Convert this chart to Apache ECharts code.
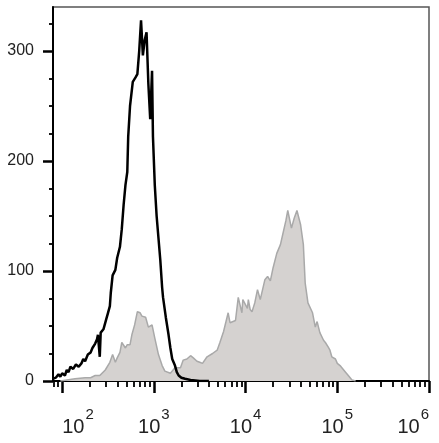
<!DOCTYPE html>
<html>
<head>
<meta charset="utf-8">
<script src="https://cdn.jsdelivr.net/npm/echarts@6/dist/echarts.min.js"></script>
<style>
html,body{margin:0;padding:0;background:#fff;}
#c{width:439px;height:443px;}
</style>
</head>
<body>
<div id="c"></div>
<script>
// x values are log10(fluorescence intensity); y values are event counts
const blackLog = [1.90,1.93,1.96,1.98,2.00,2.03,2.05,2.07,2.09,2.12,2.15,2.18,2.21,2.23,2.25,2.28,2.31,2.33,2.36,2.38,2.39,2.41,2.42,2.45,2.48,2.50,2.52,2.53,2.55,2.58,2.60,2.63,2.65,2.67,2.69,2.71,2.72,2.74,2.77,2.80,2.82,2.84,2.86,2.88,2.90,2.92,2.94,2.96,2.98,2.99,3.01,3.03,3.05,3.07,3.09,3.10,3.13,3.16,3.18,3.20,3.23,3.25,3.27,3.30,3.34,3.40,3.50,3.60];
const blackCount = [2,3,6,4,7,5,10,8,13,11,15,13,16,20,18,24,26,30,34,38,42,22,44,47,56,62,68,80,96,101,112,122,138,160,178,190,222,250,272,276,279,300,328,296,310,317,270,238,282,222,178,150,130,110,85,76,58,42,30,20,14,8,5,3,2,1,0,0];

const grayLog = [1.98,2.14,2.25,2.31,2.36,2.41,2.47,2.52,2.55,2.58,2.60,2.63,2.65,2.69,2.71,2.74,2.76,2.79,2.82,2.85,2.87,2.91,2.94,2.98,3.01,3.05,3.09,3.12,3.18,3.23,3.29,3.32,3.36,3.40,3.43,3.47,3.50,3.53,3.58,3.64,3.69,3.72,3.76,3.78,3.81,3.83,3.85,3.89,3.92,3.94,3.96,3.97,4.02,4.03,4.05,4.07,4.10,4.13,4.16,4.18,4.21,4.24,4.27,4.30,4.34,4.38,4.41,4.44,4.46,4.50,4.53,4.56,4.60,4.63,4.65,4.68,4.70,4.73,4.76,4.78,4.81,4.85,4.87,4.90,4.92,4.94,4.98,5.00,5.03,5.05,5.09,5.12,5.16,5.20];
const grayCount = [0,2,3,3,5,5,10,17,24,17,21,26,35,30,33,33,42,51,63,62,59,58,49,51,39,24,14,9,7,12,12,19,20,23,21,18,17,16,22,25,28,35,45,46,62,53,54,55,76,69,62,74,66,74,65,63,71,83,74,74,92,95,91,103,116,124,135,146,155,139,148,155,142,124,89,71,72,62,49,54,44,37,35,31,28,22,20,16,14,13,8,5,1,0];

const yMajorTicks = [0, 100, 200, 300];
const yMinorTicks = [25, 50, 75, 125, 150, 175, 225, 250, 275, 325];
const xDecades = [2, 3, 4, 5, 6];
const xMinorMultipliers = [2, 3, 4, 5, 6, 7, 8, 9];

const xMin = 1.9, xMax = 6.0, yMin = 0, yMax = 340;

const xMinorTicks = [Math.log10(80), Math.log10(90)];
[2, 3, 4, 5].forEach(d => xMinorMultipliers.forEach(m => xMinorTicks.push(d + Math.log10(m))));

const pair = (xs, ys) => xs.map((x, i) => [x, ys[i]]);

const chart = echarts.init(document.getElementById('c'), null, {renderer: 'canvas'});
const FONT = '"Liberation Sans", Arial, sans-serif';
chart.setOption({
  animation: false,
  grid: {left: 53, right: 10, top: 7, bottom: 62, containLabel: false, outerBoundsMode: 'none',
    show: true, borderColor: '#555', borderWidth: 1.5, backgroundColor: 'transparent'},
  xAxis: [{
    type: 'value', min: xMin, max: xMax, position: 'bottom',
    axisLine: {show: true, onZero: false, lineStyle: {color: '#000', width: 2}},
    axisTick: {show: true, length: 12, customValues: xDecades, lineStyle: {color: '#000', width: 2.5}},
    splitLine: {show: false},
    axisLabel: {
      customValues: xDecades, margin: 36, alignMinLabel: 'left', alignMaxLabel: 'right',
      formatter: v => '{b|10}{s|' + Math.round(v) + '}',
      rich: {
        b: {fontSize: 20, fontFamily: FONT, color: '#222', lineHeight: 20},
        s: {fontSize: 15, fontFamily: FONT, color: '#222', lineHeight: 15, padding: [0, 0, 24, 1]}
      }
    }
  }, {
    type: 'value', min: xMin, max: xMax, position: 'bottom',
    axisLine: {show: false, onZero: false},
    axisTick: {show: true, length: 6, customValues: xMinorTicks, lineStyle: {color: '#000', width: 1.8}},
    axisLabel: {show: false},
    splitLine: {show: false}
  }],
  yAxis: [{
    type: 'value', min: yMin, max: yMax, position: 'left',
    axisLine: {show: true, lineStyle: {color: '#000', width: 2}},
    axisTick: {show: true, length: 10, customValues: yMajorTicks, lineStyle: {color: '#000', width: 2.5}},
    splitLine: {show: false},
    axisLabel: {customValues: yMajorTicks, margin: 19, fontSize: 16, fontFamily: FONT, color: '#222'}
  }, {
    type: 'value', min: yMin, max: yMax, position: 'left',
    axisLine: {show: false},
    axisTick: {show: true, length: 4, customValues: yMinorTicks, lineStyle: {color: '#000', width: 1.8}},
    axisLabel: {show: false},
    splitLine: {show: false}
  }],
  series: [{
    type: 'line', xAxisIndex: 0, yAxisIndex: 0,
    data: pair(grayLog, grayCount),
    showSymbol: false, symbol: 'none',
    lineStyle: {color: '#a9a9a9', width: 1.5},
    areaStyle: {color: '#d5d2d0', opacity: 1},
    z: 2
  }, {
    type: 'line', xAxisIndex: 0, yAxisIndex: 0,
    data: pair(blackLog, blackCount),
    showSymbol: false, symbol: 'none',
    lineStyle: {color: '#000', width: 2.5},
    z: 3
  }]
});
</script>
</body>
</html>
